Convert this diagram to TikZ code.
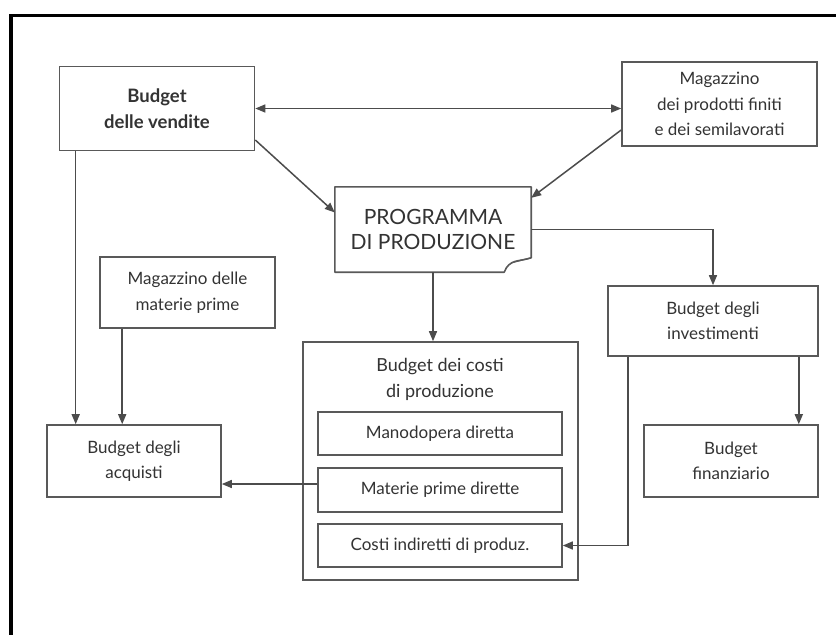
\documentclass[tikz,border=0pt]{standalone}
\usepackage{fontspec}
\setmainfont{Lato}
\usetikzlibrary{arrows.meta,calc}
\definecolor{boxc}{gray}{0.35}
\definecolor{linec}{gray}{0.3}
\definecolor{txtc}{gray}{0.2}
\begin{document}
\begin{tikzpicture}[x=1pt,y=-1pt,
  bx/.style={draw=boxc,line width=1.6pt,rectangle,inner sep=0pt,align=center,text=txtc,
    font=\fontsize{17}{25.5}\selectfont},
  conn/.style={draw=linec,line width=1.5pt,-{Triangle[length=10pt,width=8pt]}},
  conn2/.style={draw=linec,line width=1.5pt,{Triangle[length=10pt,width=8pt]}-{Triangle[length=10pt,width=8pt]}},
  plain/.style={draw=linec,line width=1.5pt}]
\useasboundingbox (0,0) rectangle (836,635);
\fill[white] (0,0) rectangle (836,635);
\draw[line width=3.2pt,black] (11,636) -- (11,15.5) -- (837,15.5);

\node[bx,minimum width=195pt,minimum height=84pt,font=\fontsize{18.5}{25.5}\selectfont\bfseries] (vend) at (157,108.5) {Budget\\delle vendite};
\node[bx,minimum width=195pt,minimum height=84pt] (magpf) at (719.5,104) {Magazzino\\dei prodotti finiti\\e dei semilavorati};
\node[rectangle,inner sep=0pt,minimum width=196pt,minimum height=85pt,align=center,text=txtc,
  font=\fontsize{21}{25.5}\selectfont] (prog) at (433,229.5) {PROGRAMMA\\DI PRODUZIONE};
\draw[draw=boxc,line width=1.6pt,line join=round]
  (prog.north west) -- (prog.north east) -- ($(prog.north east)+(0,71)$)
  .. controls ($(prog.north east)+(-12,75)$) and ($(prog.north east)+(-22,72)$) .. ($(prog.south east)+(-27,0)$)
  -- (prog.south west) -- cycle;
\draw[draw=boxc,line width=1.2pt] ($(prog.north east)+(0,71)$) -- ($(prog.north east)+(-20,76)$);
\node[bx,minimum width=175pt,minimum height=71pt] (magmp) at (187.5,292.5) {Magazzino delle\\materie prime};
\node[bx,minimum width=174pt,minimum height=72pt] (acq) at (134,461) {Budget degli\\acquisti};
\node[bx,minimum width=275pt,minimum height=238pt] (costi) at (440.5,461) {};
\node[align=center,text=txtc,font=\fontsize{18}{25.5}\selectfont,inner sep=0pt] (costit) at (440,379.5) {Budget dei costi\\di produzione};
\node[bx,minimum width=244pt,minimum height=43pt] (mano) at (440,433.5) {Manodopera diretta};
\node[bx,minimum width=244pt,minimum height=44pt] (mat) at (440,490) {Materie prime dirette};
\node[bx,minimum width=244pt,minimum height=43pt] (ci) at (440,545.5) {Costi indiretti di produz.};
\node[bx,minimum width=210pt,minimum height=70pt] (inv) at (713,321) {Budget degli\\investimenti};
\node[bx,minimum width=174pt,minimum height=72pt] (fin) at (731,461) {Budget\\finanziario};

\coordinate (v1) at ($(vend.east)+(0,31.5)$);
\coordinate (p1) at ($(prog.west)+(0,-17)$);
\coordinate (m1) at ($(magpf.west)+(0,26)$);
\coordinate (p2) at ($(prog.north east)+(0,11)$);
\coordinate (vs) at ($(vend.south west)+(17,0)$);
\coordinate (ms) at ($(magmp.south west)+(23,0)$);
\coordinate (a1) at ($(acq.east)+(0,23)$);
\coordinate (is1) at ($(inv.south west)+(21,0)$);
\coordinate (is2) at ($(inv.south east)+(-20,0)$);

\draw[conn2] (vend.east) -- (vend.east -| magpf.west);
\draw[conn] (v1) -- (p1);
\draw[conn] (m1) -- (p2);
\draw[conn] (prog.east) -| (inv.north);
\draw[conn] (prog.south) -- (prog.south |- costi.north);
\draw[conn] (is2) -- (is2 |- fin.north);
\draw[conn] (is1) |- (ci.east);
\draw[conn] (mat.west |- a1) -- (a1);
\draw[conn] (vs) -- (vs |- acq.north);
\draw[conn] (ms) -- (ms |- acq.north);
\end{tikzpicture}
\end{document}
